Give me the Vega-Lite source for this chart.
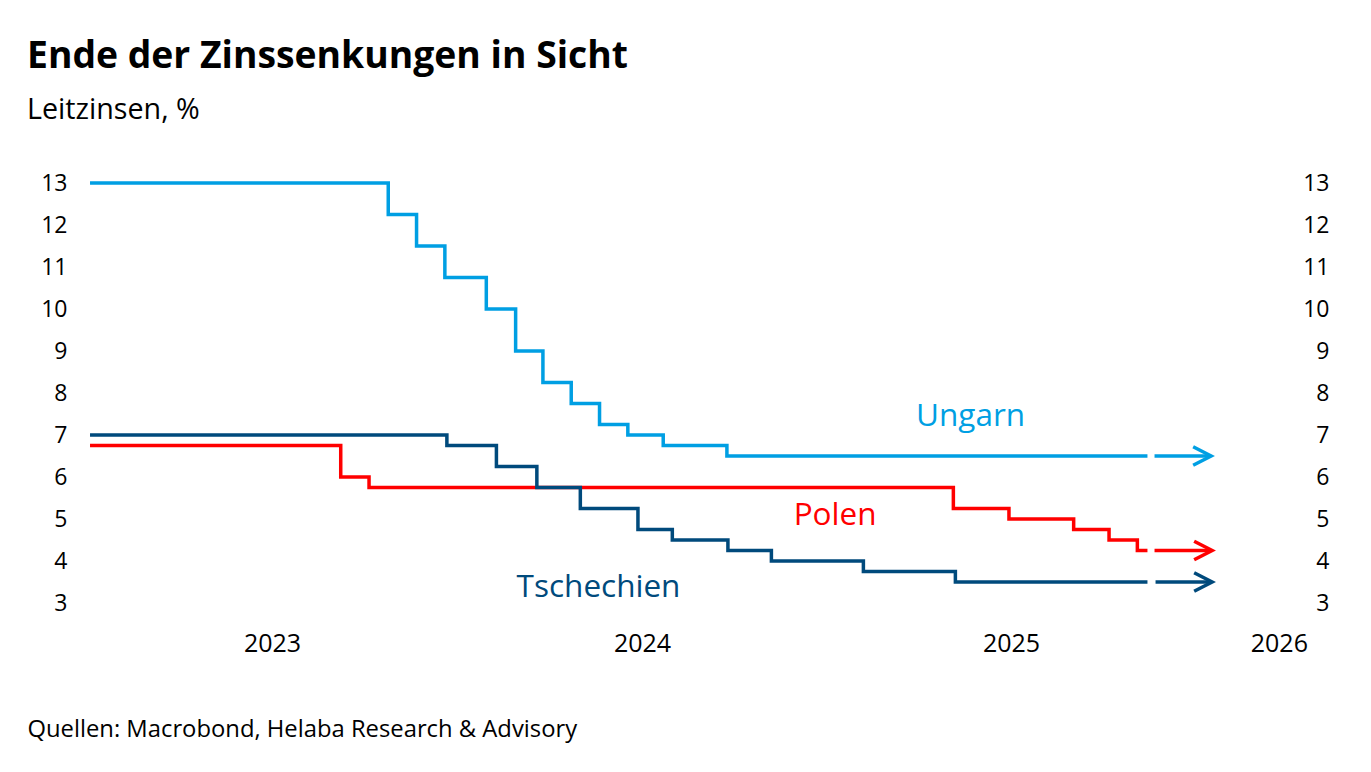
{
  "$schema": "https://vega.github.io/schema/vega-lite/v6.json",
  "autosize": "none",
  "width": 1202,
  "height": 462,
  "padding": {"left": 88, "top": 162, "right": 81, "bottom": 148},
  "background": "white",
  "config": {"view": {"stroke": null}, "font": "Open Sans"},
  "title": {
    "text": "Ende der Zinssenkungen in Sicht",
    "subtitle": "Leitzinsen, %",
    "anchor": "start",
    "frame": "group",
    "dx": -61,
    "offset": 36,
    "font": "Open Sans",
    "fontSize": 37.3,
    "fontWeight": "bold",
    "color": "#000000",
    "subtitleFont": "Open Sans",
    "subtitleFontSize": 28.7,
    "subtitleColor": "#000000",
    "subtitlePadding": 20
  },
  "datasets": {
    "rates": [
      {"country": "Ungarn", "date": "2023-01-03", "value": 13},
      {"country": "Ungarn", "date": "2023-10-25", "value": 12.25},
      {"country": "Ungarn", "date": "2023-11-22", "value": 11.5},
      {"country": "Ungarn", "date": "2023-12-20", "value": 10.75},
      {"country": "Ungarn", "date": "2024-01-30", "value": 10},
      {"country": "Ungarn", "date": "2024-02-28", "value": 9},
      {"country": "Ungarn", "date": "2024-03-26", "value": 8.25},
      {"country": "Ungarn", "date": "2024-04-23", "value": 7.75},
      {"country": "Ungarn", "date": "2024-05-21", "value": 7.25},
      {"country": "Ungarn", "date": "2024-06-18", "value": 7},
      {"country": "Ungarn", "date": "2024-07-23", "value": 6.75},
      {"country": "Ungarn", "date": "2024-09-24", "value": 6.5},
      {"country": "Ungarn", "date": "2025-11-14", "value": 6.5},
      {"country": "Polen", "date": "2023-01-03", "value": 6.75},
      {"country": "Polen", "date": "2023-09-08", "value": 6},
      {"country": "Polen", "date": "2023-10-06", "value": 5.75},
      {"country": "Polen", "date": "2025-05-06", "value": 5.25},
      {"country": "Polen", "date": "2025-06-30", "value": 5},
      {"country": "Polen", "date": "2025-09-02", "value": 4.75},
      {"country": "Polen", "date": "2025-10-07", "value": 4.5},
      {"country": "Polen", "date": "2025-11-04", "value": 4.25},
      {"country": "Polen", "date": "2025-11-14", "value": 4.25},
      {"country": "Tschechien", "date": "2023-01-03", "value": 7},
      {"country": "Tschechien", "date": "2023-12-22", "value": 6.75},
      {"country": "Tschechien", "date": "2024-02-09", "value": 6.25},
      {"country": "Tschechien", "date": "2024-03-20", "value": 5.75},
      {"country": "Tschechien", "date": "2024-05-02", "value": 5.25},
      {"country": "Tschechien", "date": "2024-06-28", "value": 4.75},
      {"country": "Tschechien", "date": "2024-08-01", "value": 4.5},
      {"country": "Tschechien", "date": "2024-09-25", "value": 4.25},
      {"country": "Tschechien", "date": "2024-11-07", "value": 4},
      {"country": "Tschechien", "date": "2025-02-06", "value": 3.75},
      {"country": "Tschechien", "date": "2025-05-08", "value": 3.5},
      {"country": "Tschechien", "date": "2025-11-14", "value": 3.5}
    ],
    "arrows": [
      {"country": "Ungarn", "date": "2025-11-21", "value": 6.5},
      {"country": "Ungarn", "date": "2026-01-15", "value": 6.5},
      {"country": "Polen", "date": "2025-11-21", "value": 4.25},
      {"country": "Polen", "date": "2026-01-15", "value": 4.25},
      {"country": "Tschechien", "date": "2025-11-22", "value": 3.5},
      {"country": "Tschechien", "date": "2026-01-15", "value": 3.5}
    ],
    "heads": [
      {"country": "Ungarn", "date": "2026-01-16", "value": 6.5},
      {"country": "Polen", "date": "2026-01-17", "value": 4.25},
      {"country": "Tschechien", "date": "2026-01-17", "value": 3.5}
    ],
    "labels": [
      {"country": "Ungarn", "date": "2025-05-23", "value": 7.43},
      {"country": "Polen", "date": "2025-01-09", "value": 5.07},
      {"country": "Tschechien", "date": "2024-05-20", "value": 3.36}
    ]
  },
  "encoding": {
    "x": {
      "field": "date",
      "type": "temporal",
      "scale": {"domain": [{"year": 2023, "month": 1, "date": 1}, {"year": 2026, "month": 4, "date": 4}]},
      "axis": {
        "values": [
          {"year": 2023, "month": 7, "date": 2},
          {"year": 2024, "month": 7, "date": 2},
          {"year": 2025, "month": 7, "date": 2},
          {"year": 2026, "month": 3, "date": 24}
        ],
        "format": "%Y",
        "labelFont": "Open Sans",
        "labelFontSize": 25,
        "labelColor": "#000000",
        "labelPadding": 7,
        "labelFlush": false,
        "labelOverlap": false,
        "labelBound": false,
        "ticks": false,
        "domain": false,
        "grid": false,
        "title": "Quellen: Macrobond, Helaba Research & Advisory",
        "titleFont": "Open Sans",
        "titleFontSize": 23.8,
        "titleFontWeight": "normal",
        "titleColor": "#000000",
        "titleAlign": "left",
        "titleBaseline": "alphabetic",
        "titleX": -61,
        "titleY": 112
      }
    },
    "color": {
      "field": "country",
      "type": "nominal",
      "scale": {"domain": ["Ungarn", "Polen", "Tschechien"], "range": ["#009FE3", "#FF0000", "#004A7C"]},
      "legend": null
    }
  },
  "layer": [
    {
      "data": {"name": "rates"},
      "mark": {"type": "line", "interpolate": "step-after", "strokeWidth": 3.5},
      "encoding": {
        "y": {
          "field": "value",
          "type": "quantitative",
          "scale": {"domain": [2.5, 13.5], "nice": false, "zero": false},
          "axis": {
            "orient": "left",
            "values": [3, 4, 5, 6, 7, 8, 9, 10, 11, 12, 13],
            "labelFont": "Open Sans",
            "labelFontSize": 23,
            "labelColor": "#000000",
            "labelPadding": 21,
            "ticks": false,
            "domain": false,
            "grid": false,
            "title": null
          }
        }
      }
    },
    {
      "data": {"name": "arrows"},
      "mark": {"type": "line", "strokeWidth": 3.5},
      "encoding": {
        "y": {"field": "value", "type": "quantitative", "scale": {"domain": [2.5, 13.5], "nice": false, "zero": false}, "axis": null}
      }
    },
    {
      "data": {"name": "heads"},
      "mark": {"type": "point", "shape": "M-1.8,-0.93L0,0L-1.8,0.93", "filled": false, "strokeWidth": 3.5, "size": 400, "opacity": 1},
      "encoding": {
        "y": {"field": "value", "type": "quantitative", "scale": {"domain": [2.5, 13.5], "nice": false, "zero": false}, "axis": null}
      }
    },
    {
      "data": {"name": "labels"},
      "mark": {"type": "text", "font": "Open Sans", "fontSize": 31.5, "align": "center", "baseline": "middle"},
      "encoding": {
        "text": {"field": "country"},
        "y": {
          "field": "value",
          "type": "quantitative",
          "scale": {"domain": [2.5, 13.5], "nice": false, "zero": false},
          "axis": {
            "orient": "right",
            "values": [3, 4, 5, 6, 7, 8, 9, 10, 11, 12, 13],
            "labelFont": "Open Sans",
            "labelFontSize": 23,
            "labelColor": "#000000",
            "labelAlign": "right",
            "labelPadding": 39,
            "ticks": false,
            "domain": false,
            "grid": false,
            "title": null
          }
        }
      }
    }
  ],
  "resolve": {"axis": {"y": "independent"}}
}
